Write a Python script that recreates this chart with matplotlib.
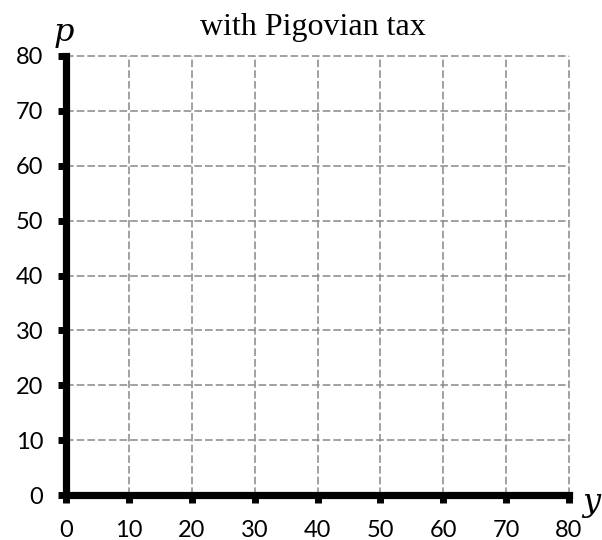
import matplotlib
matplotlib.use("Agg")
import matplotlib.pyplot as plt

title = "with Pigovian tax"
x_ticks = [0, 10, 20, 30, 40, 50, 60, 70, 80]
y_ticks = [0, 10, 20, 30, 40, 50, 60, 70, 80]
x_label = "y"
y_label = "p"

fig = plt.figure(figsize=(6.02, 5.40), dpi=100)
ax = fig.add_axes([66/602, 1-495/540, (569-66)/602, (495-56)/540])
ax.set_xlim(0, 80)
ax.set_ylim(0, 80)
ax.set_xticks(x_ticks)
ax.set_yticks(y_ticks)
ax.set_xticklabels([str(v) for v in x_ticks])
ax.set_yticklabels([str(v) for v in y_ticks])

for v in x_ticks[1:]:
    ax.axvline(v, color="#888888", lw=1.1, ls=(0, (5, 2)), zorder=1, clip_on=False)
for v in y_ticks[1:]:
    ax.axhline(v, color="#888888", lw=1.1, ls=(0, (5, 2)), zorder=1, clip_on=False)

for s in ["top", "right"]:
    ax.spines[s].set_visible(False)
for s in ["left", "bottom"]:
    ax.spines[s].set_linewidth(5.2)
    ax.spines[s].set_color("black")
    ax.spines[s].set_zorder(3)
    ax.spines[s].set_capstyle("projecting")

ax.tick_params(axis="both", direction="out", length=6, width=5, color="black",
               labelsize=17)
ax.tick_params(axis="x", pad=12)
ax.tick_params(axis="y", pad=10.5)
for lab in ax.get_xticklabels() + ax.get_yticklabels():
    lab.set_fontfamily(["Lato", "DejaVu Sans"])

fig.text(313/602, 1-27/540, title, ha="center", va="center",
         fontsize=23, family=["Liberation Serif", "DejaVu Serif"])
fig.text(64/602, 1-33/540, y_label, ha="center", va="center",
         fontsize=23, style="italic", family=["DejaVu Serif"])
fig.text(591/602, 1-503/540, x_label, ha="center", va="center",
         fontsize=23, style="italic", family=["DejaVu Serif"])

fig.savefig("out.png", dpi=100)
